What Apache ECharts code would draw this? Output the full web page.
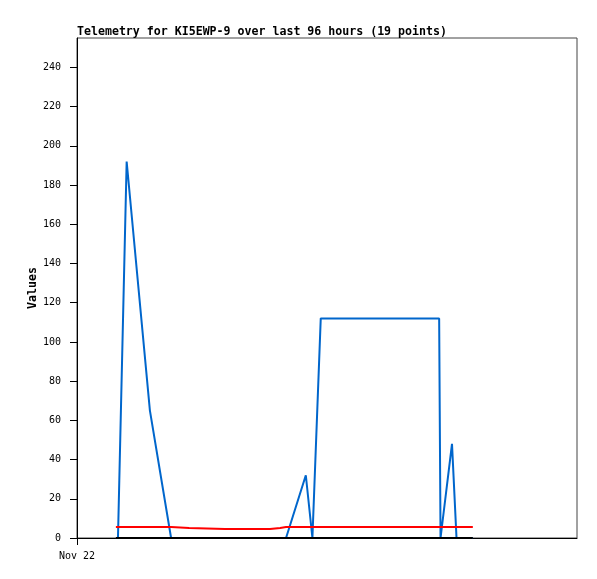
<!DOCTYPE html>
<html>
<head>
<meta charset="utf-8">
<script src="https://cdn.jsdelivr.net/npm/echarts@6/dist/echarts.min.js"></script>
<style>html,body{margin:0;padding:0;background:#fff}#c{width:597px;height:579px}</style>
</head>
<body>
<div id="c"></div>
<script>
// Data: time of day on Nov 22 (hours:minutes)
var times = ['01:52','01:58','02:23','03:30','04:31',
  '05:23','07:06','09:16','09:45','10:02',
  '10:59','11:18','11:42','14:33','17:23',
  '17:27','18:00','18:13','19:00'];
var blueValues = [0,0,192,65,0, 0,0,0,0,0, 32,0,112,112,112, 0,48,0,0];
var redValues = [5.6,5.6,5.6,5.6,5.6, 5.1,4.6,4.6,5.1,5.6, 5.6,5.6,5.6,5.6,5.6, 5.6,5.6,5.6,5.6];
var blackValues = [0,0,0,0,0, 0,0,0,0,0, 0,0,0,0,0, 0,0,0,0];
var yTicks = [0,20,40,60,80,100,120,140,160,180,200,220,240];
var xStartHour = 0;
var xEndHour = 24;
var xLabel = 'Nov 22';

function hrs(s){ var p = s.split(':'); return +p[0] + (+p[1])/60; }
function pairs(vals){ return times.map(function(t,i){ return [hrs(t), vals[i]]; }); }

var chart = echarts.init(document.getElementById('c'), null, {renderer:'canvas'});
var mono = 'DejaVu Sans Mono';
chart.setOption({
  animation: false,
  backgroundColor: '#fff',
  title: {
    text: 'Telemetry for KI5EWP-9 over last 96 hours (19 points)',
    left: 72, top: 21,
    textStyle: {fontFamily: mono, fontSize: 11.6, fontWeight: 'bold', color: '#000'}
  },
  grid: {left: 77, right: 20, top: 38, bottom: 41, show: true, borderColor: '#444', borderWidth: 1, containLabel: false},
  xAxis: {
    type: 'value', min: xStartHour, max: xEndHour,
    axisLine: {onZero: false, lineStyle: {color: '#000', width: 1}},
    axisTick: {show: true, length: 7, lineStyle: {color: '#000'}, customValues: [xStartHour]},
    axisLabel: {customValues: [xStartHour], formatter: function(){ return xLabel; }, margin: 13,
      fontFamily: mono, fontSize: 10, color: '#000'},
    splitLine: {show: false}
  },
  yAxis: {
    type: 'value', min: 0, max: 255, interval: 20,
    name: 'Values', nameLocation: 'middle', nameGap: 38, nameMoveOverlap: false,
    nameTextStyle: {fontFamily: mono, fontSize: 11.6, fontWeight: 'bold', color: '#000'},
    axisLine: {show: true, lineStyle: {color: '#000', width: 1}},
    axisTick: {show: true, length: 7, lineStyle: {color: '#000'}, customValues: yTicks},
    axisLabel: {customValues: yTicks, margin: 16, fontFamily: mono, fontSize: 10, color: '#000'},
    splitLine: {show: false}
  },
  series: [
    {type: 'line', data: pairs(blueValues), showSymbol: false, lineStyle: {color: '#0066cc', width: 2}, itemStyle:{color:'#0066cc'}},
    {type: 'line', data: pairs(redValues), showSymbol: false, lineStyle: {color: '#ff0000', width: 2}, itemStyle:{color:'#ff0000'}},
    {type: 'line', data: pairs(blackValues), showSymbol: false, lineStyle: {color: '#000000', width: 2}, itemStyle:{color:'#000'}}
  ]
});
</script>
</body>
</html>
